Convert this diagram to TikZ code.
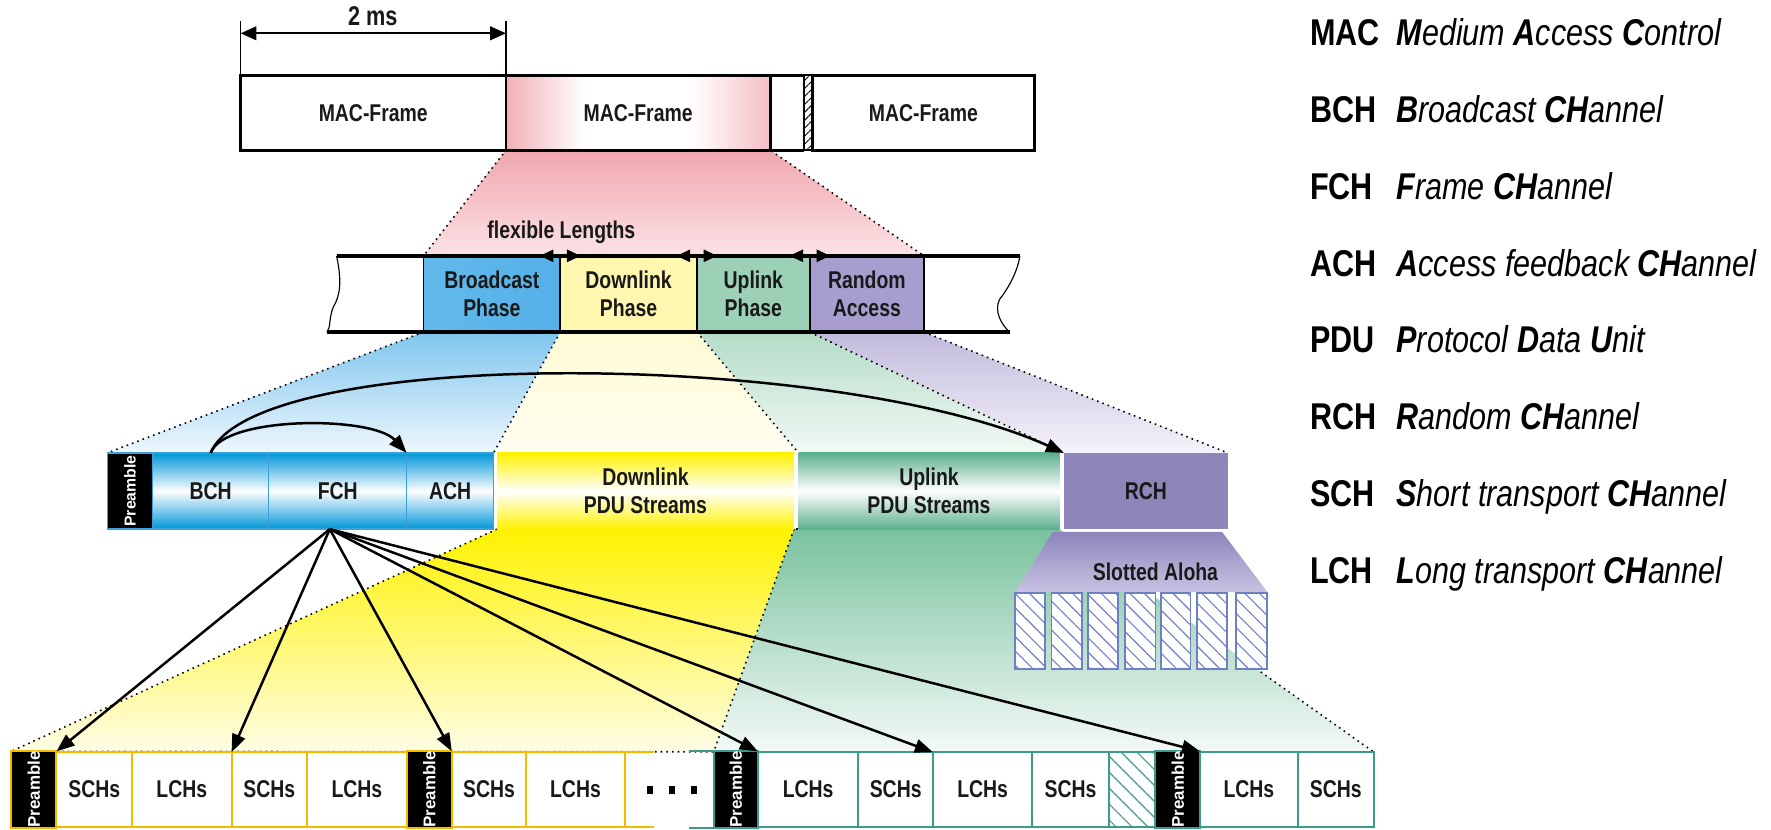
\documentclass[tikz,border=0pt]{standalone}
\usepackage{fontspec}
\setmainfont{Liberation Sans}
\newfontfamily\narrowsans{Liberation Sans}[FakeStretch=0.80]
\newfontfamily\legendsans{Liberation Sans}[FakeStretch=0.82]
\usetikzlibrary{arrows.meta,patterns.meta,calc,backgrounds}
\definecolor{pinkL}{HTML}{E8808C}
\definecolor{pinkR}{HTML}{EE9FA8}
\definecolor{pinkT}{HTML}{F0A6AE}
\definecolor{pinkB}{HTML}{FBE3E6}
\definecolor{bphL}{HTML}{62B9EB}
\definecolor{bphM}{HTML}{D6EFFB}
\definecolor{bphR}{HTML}{55B0E8}
\definecolor{dphE}{HTML}{FFF6B0}
\definecolor{dphM}{HTML}{FFFCE0}
\definecolor{uphE}{HTML}{9DD1B7}
\definecolor{uphM}{HTML}{E2F2EA}
\definecolor{rphE}{HTML}{A79ECF}
\definecolor{rphM}{HTML}{E0DCEF}
\definecolor{blueT}{HTML}{7FC5EE}
\definecolor{blueB}{HTML}{EEF7FC}
\definecolor{yelT}{HTML}{FFFBD5}
\definecolor{yelB}{HTML}{FFFEF0}
\definecolor{grnT}{HTML}{B4DCC7}
\definecolor{grnB}{HTML}{F2F9F5}
\definecolor{purT}{HTML}{C2BADC}
\definecolor{purB}{HTML}{F5F3FA}
\definecolor{cblue}{HTML}{0095D9}
\definecolor{cblueline}{HTML}{3AA0DA}
\definecolor{cyel}{HTML}{FFF200}
\definecolor{cgrn}{HTML}{5CAF8C}
\definecolor{crch}{HTML}{8E85B9}
\definecolor{ybB}{HTML}{FFFDE6}
\definecolor{gbT}{HTML}{7AC29F}
\definecolor{gbB}{HTML}{F4FAF7}
\definecolor{aloT}{HTML}{8D85BB}
\definecolor{aloB}{HTML}{C9C2E2}
\definecolor{slotc}{HTML}{6D80C4}
\definecolor{yline}{HTML}{F5BA00}
\definecolor{gline}{HTML}{3D9B8B}
\pgfdeclarehorizontalshading{pinkframe}{100bp}{color(0bp)=(pinkL); color(22bp)=(pinkL!75!white); color(40bp)=(white); color(60bp)=(white); color(78bp)=(pinkR!80!white); color(100bp)=(pinkR)}

\begin{document}
\begin{tikzpicture}[x=1pt,y=-1pt]
\tikzstyle{every node}+=[inner sep=0pt, outer sep=0pt]
\tikzstyle{lbl}=[font=\narrowsans\bfseries\fontsize{21.5}{24.5}\selectfont, align=center, text=black!90]
\tikzstyle{frame}=[lbl, draw, line width=2.5pt, minimum height=66.5pt]
\tikzstyle{phase}=[lbl, draw, line width=1.5pt, minimum height=67.5pt]
\tikzstyle{chan}=[lbl, minimum height=67.5pt]
\tikzstyle{bluech}=[chan, draw=cblueline, line width=1.2pt, top color=cblue, bottom color=cblue, middle color=white]
\tikzstyle{pre}=[fill=black, text=white, font=\bfseries\fontsize{15}{15}\selectfont]
\tikzstyle{ybox}=[lbl, draw=yline, line width=1.8pt, fill=white, minimum height=66pt]
\tikzstyle{gbox}=[lbl, draw=gline, line width=1.8pt, fill=white, minimum height=66pt]
\tikzstyle{slot}=[draw=slotc, line width=1.6pt, minimum height=67pt, fill=white, postaction={pattern={Lines[angle=-45,distance=9pt,line width=1pt]}, pattern color=slotc}]
\tikzstyle{dotline}=[line width=1.4pt, dash pattern=on 1.4pt off 3.6pt]
\tikzstyle{fan}=[line width=2.2pt, -{Triangle[length=16pt,width=12pt]}]
\tikzstyle{flexarr}=[line width=1pt, -{Triangle[length=12pt,width=11pt]}]
\tikzstyle{key}=[anchor=base west, font=\legendsans\bfseries\fontsize{33}{33}\selectfont]
\tikzstyle{desc}=[anchor=base west, font=\legendsans\itshape\fontsize{33}{33}\selectfont]
\useasboundingbox (0,0) rectangle (1568,734);

\node[frame, minimum width=235pt] (mf1) at (330.5,99.75) {MAC-Frame};
\node[frame, minimum width=234pt, shading=pinkframe] (mf2) at (565,99.75) {MAC-Frame};
\node[draw, line width=2pt, minimum width=7pt, minimum height=66.5pt, fill=white, postaction={pattern={Lines[angle=45,distance=5pt,line width=0.8pt]}}] (mhatch) at (715.5,99.75) {};
\node[frame, minimum width=197pt] (mf3) at (817.5,99.75) {MAC-Frame};
\draw[line width=2.5pt] (mf2.north east) -- (mhatch.north west);
\draw[line width=2.5pt] (mf2.south east) -- (mhatch.south west);
\coordinate (dimL) at ($(mf1.north west)+(0,-37)$);
\coordinate (dimR) at ($(mf1.north east)+(0,-37)$);
\draw[line width=1.5pt] (mf1.north west) -- ++(0,-48);
\draw[line width=1.5pt] (mf1.north east) -- ++(0,-48);
\draw[line width=2pt, {Triangle[length=14pt,width=12pt]}-{Triangle[length=14pt,width=12pt]}] (dimL) -- (dimR);
\node[lbl, font=\narrowsans\bfseries\fontsize{24}{24}\selectfont] (dim) at (330,14) {2 ms};

\node[phase, minimum width=121pt, left color=bphL, middle color=bphM, right color=bphR] (ph1) at (435.5,260.25) {Broadcast\\Phase};
\node[phase, minimum width=121pt, left color=dphE, middle color=dphM, right color=dphE] (ph2) at (556.5,260.25) {Downlink\\Phase};
\node[phase, minimum width=100pt, left color=uphE, middle color=uphM, right color=uphE] (ph3) at (667,260.25) {Uplink\\Phase};
\node[phase, minimum width=101pt, left color=rphE, middle color=rphM, right color=rphE] (ph4) at (767.5,260.25) {Random\\Access};
\draw[line width=3pt] ($(ph1.north west)+(-77,0)$) -- ($(ph4.north east)+(85,0)$);
\draw[line width=3pt] ($(ph1.south west)+(-85.5,0)$) -- ($(ph4.south east)+(76,0)$);
\draw[line width=1pt] (298,226.5) .. controls (303,250) and (301,262) .. (295,272) .. controls (291,282) and (293,290) .. (289.5,294);
\draw[line width=1pt] (903,226.5) .. controls (901,240) and (893,255) .. (885,265) .. controls (880,275) and (886,287) .. (894,294);
\node[lbl] (flex) at (497,206) {flexible Lengths};
\draw[flexarr] ([xshift=-5pt]ph1.north east) -- ++(-13,0);
\draw[flexarr] ([xshift=5pt]ph1.north east) -- ++(13,0);
\draw[flexarr] ([xshift=-5pt]ph2.north east) -- ++(-13,0);
\draw[flexarr] ([xshift=5pt]ph2.north east) -- ++(13,0);
\draw[flexarr] ([xshift=-5pt]ph3.north east) -- ++(-13,0);
\draw[flexarr] ([xshift=5pt]ph3.north east) -- ++(13,0);

\node[pre, draw=cblueline, line width=1.2pt, minimum width=40pt, minimum height=67.5pt, font=\bfseries\fontsize{14}{14}\selectfont] (pre1) at (115,434.75) {\rotatebox{90}{Preamble}};
\node[bluech, minimum width=103pt] (bch) at (186.5,434.75) {BCH};
\node[bluech, minimum width=122pt] (fch) at (299,434.75) {FCH};
\node[bluech, minimum width=77pt] (ach) at (398.5,434.75) {ACH};
\node[chan, minimum width=263pt, top color=cyel, bottom color=cyel, middle color=white] (dl) at (571.5,434.75) {Downlink\\PDU Streams};
\node[chan, minimum width=231pt, top color=cgrn, bottom color=cgrn, middle color=white] (ul) at (822.5,434.75) {Uplink\\PDU Streams};
\node[chan, minimum width=145pt, fill=crch] (rch) at (1014.5,434.75) {RCH};

\shade[top color=aloT, bottom color=aloB] (932,471) -- (1082,471) -- (1122,524) -- (899,524) -- cycle;
\node[lbl] (aloha) at (1023,506) {Slotted Aloha};
\node[slot, minimum width=26pt] (sl1) at (912,558.5) {};
\node[slot, minimum width=27pt] (sl2) at (944.5,558.5) {};
\node[slot, minimum width=27pt] (sl3) at (976.5,558.5) {};
\node[slot, minimum width=27pt] (sl4) at (1009.5,558.5) {};
\node[slot, minimum width=26pt] (sl5) at (1041,558.5) {};
\node[slot, minimum width=26pt] (sl6) at (1073,558.5) {};
\node[slot, minimum width=28pt] (sl7) at (1108,558.5) {};

\node[pre, draw=yline, line width=1.8pt, minimum width=40pt, minimum height=66pt] (pa1) at (30,699) {\rotatebox{90}{Preamble}};
\node[ybox, minimum width=67pt] (s1) at (83.5,699) {SCHs};
\node[ybox, minimum width=88pt] (l1) at (161,699) {LCHs};
\node[ybox, minimum width=67pt] (s2) at (238.5,699) {SCHs};
\node[ybox, minimum width=88pt] (l2) at (316,699) {LCHs};
\node[pre, draw=yline, line width=1.8pt, minimum width=40pt, minimum height=66pt] (pa2) at (380,699) {\rotatebox{90}{Preamble}};
\node[ybox, minimum width=66pt] (s3) at (433,699) {SCHs};
\node[ybox, minimum width=87pt] (l3) at (509.5,699) {LCHs};
\draw[yline, line width=1.8pt] (l3.north east) -- ++(26,0);
\draw[yline, line width=1.8pt] (l3.south east) -- ++(26,0);
\fill (573,696) rectangle ++(5,7);
\fill (592.5,696) rectangle ++(5,7);
\fill (612,696) rectangle ++(5,7);

\node[pre, draw=gline, line width=1.8pt, minimum width=39pt, minimum height=66pt] (pa3) at (651.5,699) {\rotatebox{90}{Preamble}};
\draw[gline, line width=1.8pt] (pa3.north west) -- ++(-22,0);
\draw[gline, line width=1.8pt] (pa3.south west) -- ++(-22,0);
\node[gbox, minimum width=89pt] (l4) at (715.5,699) {LCHs};
\node[gbox, minimum width=66pt] (s4) at (793,699) {SCHs};
\node[gbox, minimum width=88pt] (l5) at (870,699) {LCHs};
\node[gbox, minimum width=67.5pt] (s5) at (947.75,699) {SCHs};
\node[gbox, minimum width=41.5pt, postaction={pattern={Lines[angle=-45,distance=10pt,line width=1pt]}, pattern color=gline}] (hb) at (1002.25,699) {};
\node[pre, draw=gline, line width=1.8pt, minimum width=39.5pt, minimum height=66pt] (pa4) at (1042.75,699) {\rotatebox{90}{Preamble}};
\node[gbox, minimum width=86.5pt] (l6) at (1105.75,699) {LCHs};
\node[gbox, minimum width=67.5pt] (s6) at (1182.75,699) {SCHs};

\begin{pgfonlayer}{background}
\shade[top color=pinkT, bottom color=pinkB] (mf2.south west) -- (mf2.south east) -- (ph4.north east) -- (ph1.north west) -- cycle;
\draw[dotline] (mf2.south west) -- (mf2.south east) -- (ph4.north east) -- (ph1.north west) -- cycle;
\shade[top color=blueT, bottom color=blueB] (ph1.south west) -- (ph1.south east) -- (ach.north east) -- (pre1.north west) -- cycle;
\shade[top color=yelT, bottom color=yelB] (ph2.south west) -- (ph2.south east) -- (ul.north west) -- (dl.north west) -- cycle;
\shade[top color=grnT, bottom color=grnB] (ph3.south west) -- (ph3.south east) -- (rch.north west) -- (ul.north west) -- cycle;
\shade[top color=purT, bottom color=purB] (ph4.south west) -- (ph4.south east) -- (rch.north east) -- (rch.north west) -- cycle;
\draw[dotline] (ph1.south west) -- (pre1.north west);
\draw[dotline] (ph1.south east) -- (ach.north east);
\draw[dotline] (ph2.south east) -- (ul.north west);
\draw[dotline] (ph3.south east) -- (rch.north west);
\draw[dotline] (ph4.south east) -- (rch.north east);
\shade[top color=cyel, bottom color=ybB] (dl.south west) -- (dl.south east) -- (pa3.north west) -- (pa1.north west) -- cycle;
\shade[top color=gbT, bottom color=gbB] (dl.south east) -- (ul.south east) -- (s6.north east) -- (pa3.north west) -- cycle;
\draw[dotline] (dl.south west) -- (pa1.north west);
\draw[dotline] (dl.south east) -- (pa3.north west);
\draw[dotline] ($(ul.south east)!0.64!(s6.north east)$) -- (s6.north east);
\draw[dotline] (dl.south west) -- (ul.south east);
\draw[dotline] (pa1.north west) -- (s6.north east);
\end{pgfonlayer}

\draw[fan] (bch.north) .. controls +(12,-33) and +(-30,-33) .. (ach.north west);
\draw[fan] (bch.north) .. controls +(40,-95) and +(-202,-91) .. (rch.north west);
\draw[fan] ([xshift=-7pt]fch.south) -- (pa1.north east);
\draw[fan] ([xshift=-7pt]fch.south) -- (s2.north west);
\draw[fan] ([xshift=-7pt]fch.south) -- (pa2.north east);
\draw[fan] ([xshift=-7pt]fch.south) -- (pa3.north east);
\draw[fan] ([xshift=-7pt]fch.south) -- (l5.north west);
\draw[fan] ([xshift=-7pt]fch.south) -- (pa4.north east);

\node[key] (kmac) at (1160,40.4) {MAC};
\node[desc] (dmac) at (1236.5,40.4) {\textbf{M}edium \textbf{A}ccess \textbf{C}ontrol};
\node[key] (kbch) at (1160,108.4) {BCH};
\node[desc] (dbch) at (1236.5,108.4) {\textbf{B}roadcast \textbf{CH}annel};
\node[key] (kfch) at (1160,176.4) {FCH};
\node[desc] (dfch) at (1236.5,176.4) {\textbf{F}rame \textbf{CH}annel};
\node[key] (kach) at (1160,244.4) {ACH};
\node[desc] (dach) at (1236.5,244.4) {\textbf{A}ccess feedback \textbf{CH}annel};
\node[key] (kpdu) at (1160,312.4) {PDU};
\node[desc] (dpdu) at (1236.5,312.4) {\textbf{P}rotocol \textbf{D}ata \textbf{U}nit};
\node[key] (krch) at (1160,380.4) {RCH};
\node[desc] (drch) at (1236.5,380.4) {\textbf{R}andom \textbf{CH}annel};
\node[key] (ksch) at (1160,448.4) {SCH};
\node[desc] (dsch) at (1236.5,448.4) {\textbf{S}hort transport \textbf{CH}annel};
\node[key] (klch) at (1160,516.4) {LCH};
\node[desc] (dlch) at (1236.5,516.4) {\textbf{L}ong transport \textbf{CH}annel};

\end{tikzpicture}
\end{document}
